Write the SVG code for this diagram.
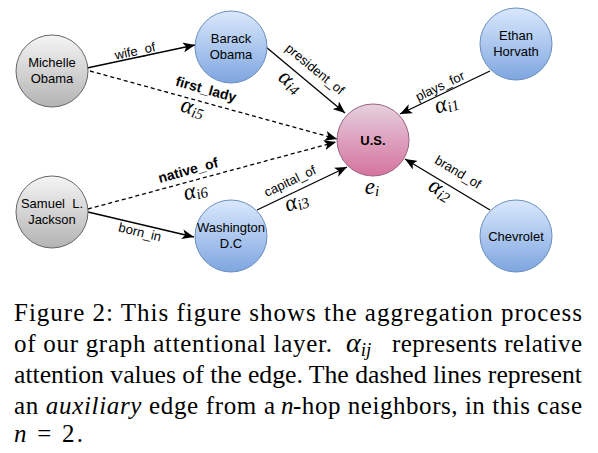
<svg xmlns="http://www.w3.org/2000/svg" width="598" height="453" viewBox="0 0 598 453">
<style>
.nl{font-size:13px;fill:#000;text-anchor:middle}
.el{font-size:13px;fill:#000;text-anchor:middle;dominant-baseline:central}
.bl{font-weight:bold;font-size:14px}
.al{font-style:italic;font-size:23px;fill:#000;text-anchor:middle;dominant-baseline:central}
.sub{font-size:15px}
.edge{stroke:#000;stroke-width:1.3;fill:none;marker-end:url(#arr)}
.dash{stroke-dasharray:4 3}
.cap{font-size:25px;fill:#000}
</style>
<defs>
<linearGradient id="gb" x1="0" y1="0" x2="0" y2="1"><stop offset="0" stop-color="#dae8fc"/><stop offset="1" stop-color="#7ea6e0"/></linearGradient>
<linearGradient id="gg" x1="0" y1="0" x2="0" y2="1"><stop offset="0" stop-color="#f5f5f5"/><stop offset="1" stop-color="#b3b3b3"/></linearGradient>
<linearGradient id="gp" x1="0" y1="0" x2="0" y2="1"><stop offset="0" stop-color="#e6d0de"/><stop offset="1" stop-color="#d5739d"/></linearGradient>
<marker id="arr" markerUnits="userSpaceOnUse" markerWidth="12" markerHeight="10" refX="12" refY="5" orient="auto"><path d="M0,0 L12,5 L0,10 L3,5 Z" fill="#000"/></marker>
</defs>

<g id="connectors">
<line class="edge" x1="87" y1="68" x2="195" y2="45"/>
<line class="edge dash" x1="90" y1="71" x2="337" y2="139"/>
<line class="edge" x1="266" y1="47" x2="345" y2="113"/>
<line class="edge" x1="490" y1="71" x2="400" y2="114"/>
<line class="edge dash" x1="88" y1="209" x2="336" y2="142"/>
<line class="edge" x1="88" y1="212" x2="194" y2="237"/>
<line class="edge" x1="257" y1="210" x2="347" y2="167"/>
<line class="edge" x1="490" y1="210" x2="405" y2="159"/>
</g>

<g id="edge-labels" font-family="Liberation Sans, Arial, sans-serif">
<text class="el" transform="translate(135,51) rotate(-12)">wife_of</text>
<text class="el bl" transform="translate(206,89) rotate(15.6)">first_lady</text>
<text class="el" transform="translate(315,69) rotate(39.4)">president_of</text>
<text class="el" transform="translate(440,86) rotate(-25.5)">plays_for</text>
<text class="el bl" transform="translate(188,170) rotate(-15.4)">native_of</text>
<text class="el" transform="translate(140,232) rotate(13.4)">born_in</text>
<text class="el" transform="translate(290,181) rotate(-25.5)">capital_of</text>
<text class="el" transform="translate(458,172) rotate(31)">brand_of</text>
</g>
<g id="attention-labels" font-family="Liberation Serif, Times New Roman, serif">
<text class="al" transform="translate(193,107) rotate(15.6)">α<tspan class="sub" dy="5">i5</tspan></text>
<text class="al" transform="translate(291,81) rotate(39.4)">α<tspan class="sub" dy="5">i4</tspan></text>
<text class="al" transform="translate(446,103) rotate(-18)">α<tspan class="sub" dy="5">i1</tspan></text>
<text class="al" transform="translate(195,190) rotate(-15.4)">α<tspan class="sub" dy="5">i6</tspan></text>
<text class="al" transform="translate(296,201) rotate(-20)">α<tspan class="sub" dy="5">i3</tspan></text>
<text class="al" transform="translate(441,189) rotate(31)">α<tspan class="sub" dy="5">i2</tspan></text>
</g>

<g font-family="Liberation Sans, Arial, sans-serif">
<g id="michelle">
<circle cx="52" cy="71" r="36" fill="url(#gg)" stroke="#666666"/>
<text class="nl" x="52" y="67">Michelle</text>
<text class="nl" x="52" y="83">Obama</text>
</g>
<g id="barack">
<circle cx="231" cy="47" r="36" fill="url(#gb)" stroke="#6c8ebf"/>
<text class="nl" x="231" y="43">Barack</text>
<text class="nl" x="231" y="59">Obama</text>
</g>
<g id="ethan">
<circle cx="516" cy="44" r="36" fill="url(#gb)" stroke="#6c8ebf"/>
<text class="nl" x="516" y="40">Ethan</text>
<text class="nl" x="516" y="56">Horvath</text>
</g>
<g id="us">
<circle cx="373" cy="140" r="36" fill="url(#gp)" stroke="#996185"/>
<text class="nl" x="373" y="145" font-weight="bold">U.S.</text>
<text class="al" x="372" y="186" font-family="Liberation Serif, Times New Roman, serif">e<tspan class="sub" dy="5">i</tspan></text>
</g>
<g id="samuel">
<circle cx="52" cy="212" r="36" fill="url(#gg)" stroke="#666666"/>
<text class="nl" x="52" y="208" xml:space="preserve">Samuel  L.</text>
<text class="nl" x="52" y="224">Jackson</text>
</g>
<g id="washington">
<circle cx="231" cy="236" r="36" fill="url(#gb)" stroke="#6c8ebf"/>
<text class="nl" x="231" y="232">Washington</text>
<text class="nl" x="231" y="248">D.C</text>
</g>
<g id="chevrolet">
<circle cx="516" cy="236" r="36" fill="url(#gb)" stroke="#6c8ebf"/>
<text class="nl" x="516" y="241">Chevrolet</text>
</g>
</g>

<g id="caption" font-family="Liberation Serif, Times New Roman, serif">
<text class="cap" x="14" y="321" textLength="568" lengthAdjust="spacing">Figure 2: This figure shows the aggregation process</text>
<text class="cap" x="14" y="352" textLength="318" lengthAdjust="spacing">of our graph attentional layer.</text>
<text class="cap" x="346" y="352" style="font-style:italic;font-size:28px">α<tspan style="font-size:19px" dy="4">ij</tspan></text>
<text class="cap" x="392" y="352" textLength="190" lengthAdjust="spacing">represents relative</text>
<text class="cap" x="14" y="383" textLength="568" lengthAdjust="spacingAndGlyphs">attention values of the edge. The dashed lines represent</text>
<text class="cap" x="14" y="414" textLength="261" lengthAdjust="spacing">an <tspan font-style="italic">auxiliary</tspan> edge from a</text>
<text class="cap" x="281" y="414" font-style="italic">n</text>
<text class="cap" x="293" y="414" textLength="289" lengthAdjust="spacing">-hop neighbors, in this case</text>
<text class="cap" x="14" y="442" textLength="69" lengthAdjust="spacing"><tspan font-style="italic">n</tspan> = 2.</text>
</g>
</svg>
